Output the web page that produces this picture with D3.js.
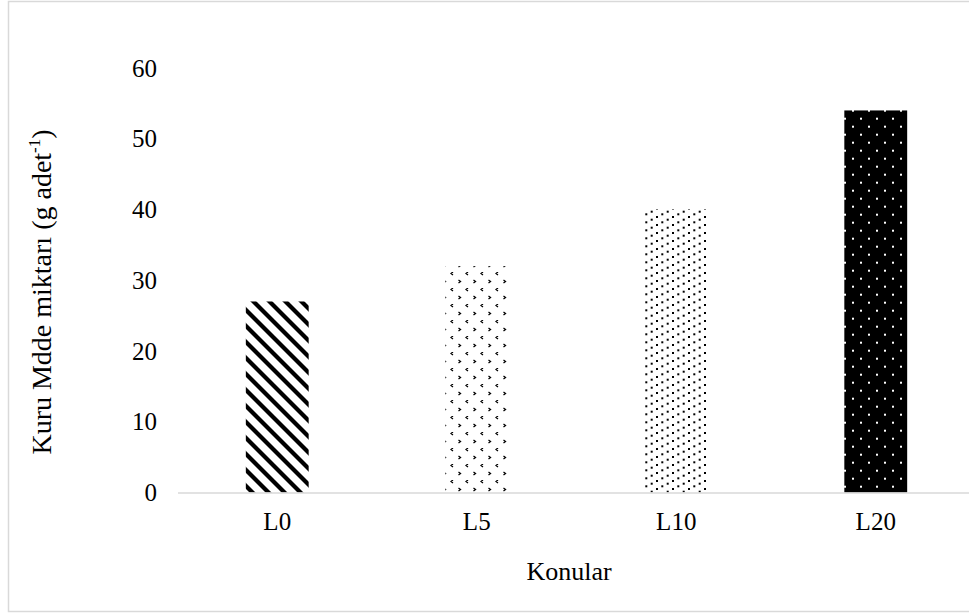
<!DOCTYPE html>
<html><head><meta charset="utf-8">
<script src="https://cdn.jsdelivr.net/npm/d3@7"></script>
<style>html,body{margin:0;padding:0;background:#fff;}svg{display:block;}</style>
</head><body>
<script>
const categories = ["L0", "L5", "L10", "L20"];
const values = [27, 32, 40, 54];
const yTicks = [0, 10, 20, 30, 40, 50, 60];
const xTitle = "Konular";
const yTitle = "Kuru Mdde miktarı (g adet";

const W = 969, H = 615;
const svg = d3.select("body").append("svg").attr("width", W).attr("height", H);
const font = "'Liberation Serif','Times New Roman',serif";

// chart border
svg.append("rect").attr("x", 8.5).attr("y", 1.5).attr("width", 980).attr("height", 610)
  .attr("fill", "#fff").attr("stroke", "#d9d9d9").attr("stroke-width", 1.5);

const defs = svg.append("defs");
// L0: downward diagonal stripes
const p0 = defs.append("pattern").attr("id", "p0").attr("patternUnits", "userSpaceOnUse")
  .attr("width", 16).attr("height", 16);
p0.append("rect").attr("width", 16).attr("height", 16).attr("fill", "#fff");
[[-8, -8, 24, 24], [-8, 8, 8, 24], [8, -8, 24, 8]].forEach(([x1, y1, x2, y2]) =>
  p0.append("line").attr("x1", x1).attr("y1", y1).attr("x2", x2).attr("y2", y2)
    .attr("stroke", "#000").attr("stroke-width", 4.2));
// L5: small chevrons
const p1 = defs.append("pattern").attr("id", "p1").attr("patternUnits", "userSpaceOnUse")
  .attr("width", 15).attr("height", 16);
p1.append("rect").attr("width", 15).attr("height", 16).attr("fill", "#fff");
p1.append("path").attr("d", "M3,0 l-2,1.5 l2,1.5").attr("fill", "none").attr("stroke", "#000").attr("stroke-width", 1.3);
p1.append("path").attr("d", "M8.5,8 l2,1.5 l-2,1.5").attr("fill", "none").attr("stroke", "#000").attr("stroke-width", 1.3);
// L10: sparse staggered dots
const p2 = defs.append("pattern").attr("id", "p2").attr("patternUnits", "userSpaceOnUse")
  .attr("width", 16).attr("height", 8);
p2.append("rect").attr("width", 16).attr("height", 8).attr("fill", "#fff");
[[0, 0], [10.7, 2.7], [5.3, 5.3]].forEach(([x, y]) =>
  p2.append("rect").attr("x", x).attr("y", y).attr("width", 2).attr("height", 2).attr("fill", "#000"));
// L20: black with white dots
const p3 = defs.append("pattern").attr("id", "p3").attr("patternUnits", "userSpaceOnUse")
  .attr("x", 844).attr("y", 109.7).attr("width", 16).attr("height", 16);
p3.append("rect").attr("width", 16).attr("height", 16).attr("fill", "#000");
[[8, 0], [0, 8]].forEach(([x, y]) =>
  p3.append("rect").attr("x", x).attr("y", y).attr("width", 2).attr("height", 2).attr("fill", "#fff"));
const fills = ["url(#p0)", "url(#p1)", "url(#p2)", "url(#p3)"];

const x = d3.scaleBand().domain(categories).range([177.5, 975.5]).paddingInner(0.685).paddingOuter(0.3425);
const y = d3.scaleLinear().domain([0, 60]).range([492.5, 68]);

svg.selectAll("rect.bar").data(values).join("rect").attr("class", "bar")
  .attr("x", (d, i) => x(categories[i])).attr("width", x.bandwidth())
  .attr("y", d => y(d)).attr("height", d => y(0) - y(d))
  .attr("fill", (d, i) => fills[i]);

// y axis labels (no line)
const yAxis = svg.append("g").attr("transform", "translate(157,0)")
  .call(d3.axisLeft(y).tickValues(yTicks).tickSize(0).tickPadding(0));
yAxis.select(".domain").remove();
yAxis.selectAll("text").attr("font-family", font).attr("font-size", 25).attr("fill", "#000").attr("dy", "0.32em");

// x axis
const xAxis = svg.append("g").attr("transform", `translate(0,${y(0)})`)
  .call(d3.axisBottom(x).tickSize(0).tickPadding(20));
xAxis.select(".domain").attr("stroke", "#d9d9d9").attr("stroke-width", 1.5);
xAxis.selectAll("text").attr("font-family", font).attr("font-size", 25).attr("fill", "#000");

svg.append("text").attr("x", 569).attr("y", 580).attr("text-anchor", "middle")
  .attr("font-family", font).attr("font-size", 26).text(xTitle);

const yt = svg.append("text").attr("transform", "translate(51,292) rotate(-90)").attr("text-anchor", "middle")
  .attr("font-family", font).attr("font-size", 28);
yt.append("tspan").text(yTitle);
yt.append("tspan").attr("font-size", 17).attr("dy", -11).text("-1");
yt.append("tspan").attr("dy", 11).text(")");
</script>
</body></html>
